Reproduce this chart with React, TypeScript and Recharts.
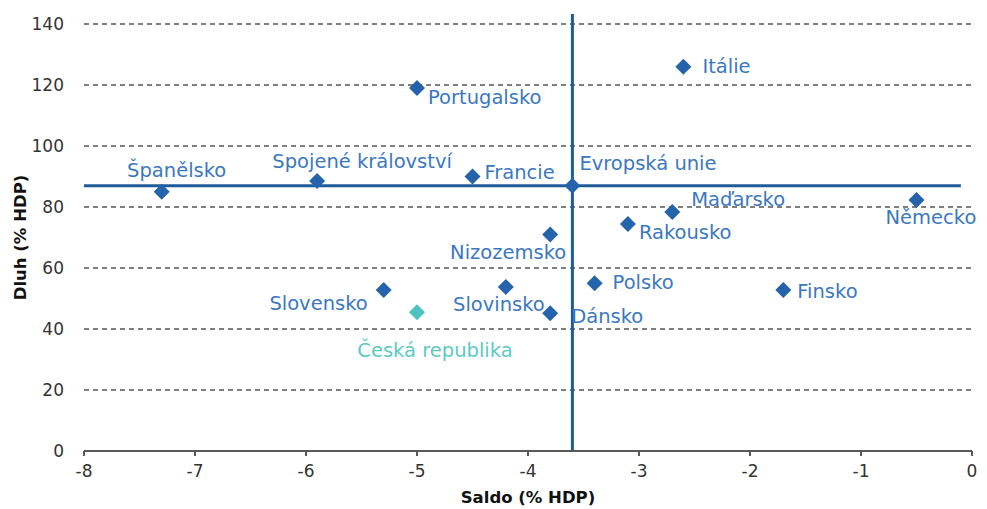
import { CartesianGrid, ReferenceLine, Scatter, ScatterChart, XAxis, YAxis } from 'recharts';

// Czech names of the countries, fiscal balance and debt (both % of GDP)
const countries = [
  'Španělsko',
  'Spojené království',
  'Portugalsko',
  'Francie',
  'Evropská unie',
  'Itálie',
  'Maďarsko',
  'Rakousko',
  'Německo',
  'Nizozemsko',
  'Polsko',
  'Finsko',
  'Slovensko',
  'Slovinsko',
  'Dánsko',
];
const saldo = [-7.3, -5.9, -5.0, -4.5, -3.6, -2.6, -2.7, -3.1, -0.5, -3.8, -3.4, -1.7, -5.3, -4.2, -3.8];
const dluh = [85, 88.5, 119, 90, 87, 126, 78.4, 74.4, 82.3, 71, 55, 52.8, 52.8, 53.8, 45.2];

const czName = 'Česká republika';
const czSaldo = -5.0;
const czDluh = 45.5;

const euSaldo = -3.6;
const euDluh = 87;

const xTicks = [-8, -7, -6, -5, -4, -3, -2, -1, 0];
const yTicks = [0, 20, 40, 60, 80, 100, 120, 140];

// label offsets from the marker: [dx, dy, anchor]
const labelLayout: Record<string, [number, number, 'start' | 'middle' | 'end']> = {
  'Španělsko': [15, -21, 'middle'],
  'Spojené království': [45, -20, 'middle'],
  Portugalsko: [11, 9, 'start'],
  Francie: [12, -4, 'start'],
  'Evropská unie': [7, -22, 'start'],
  'Itálie': [19, 0, 'start'],
  'Maďarsko': [19, -12, 'start'],
  Rakousko: [11, 8, 'start'],
  'Německo': [-31, 18, 'start'],
  Nizozemsko: [16, 18, 'end'],
  Polsko: [18, -1, 'start'],
  Finsko: [14, 2, 'start'],
  Slovensko: [-16, 14, 'end'],
  Slovinsko: [39, 18, 'end'],
  'Dánsko': [21, 3, 'start'],
  'Česká republika': [18, 38, 'middle'],
};

const mainData = countries.map((name, i) => ({ name, saldo: saldo[i], dluh: dluh[i] }));
const czData = [{ name: czName, saldo: czSaldo, dluh: czDluh }];

const FONT = '"DejaVu Sans", Verdana, sans-serif';

function makeShape(fill: string, textFill: string) {
  return (props: any) => {
    const { cx, cy, payload } = props;
    const [dx, dy, anchor] = labelLayout[payload.name] ?? [10, 0, 'start'];
    const r = 8;
    return (
      <g>
        <polygon points={`${cx},${cy - r} ${cx + r},${cy} ${cx},${cy + r} ${cx - r},${cy}`} fill={fill} />
        <text
          x={cx + dx}
          y={cy + dy}
          textAnchor={anchor}
          dominantBaseline="central"
          fill={textFill}
          fontSize={19.5}
          fontFamily={FONT}
        >
          {payload.name}
        </text>
      </g>
    );
  };
}

export default function App() {
  return (
    <ScatterChart
      width={979}
      height={501}
      margin={{ top: 16, right: 15, left: 4, bottom: 28 }}
      style={{ fontFamily: FONT }}
    >
      <CartesianGrid horizontal vertical={false} stroke="#000" strokeWidth={1.2} strokeDasharray="5 4" />
      <XAxis
        type="number"
        dataKey="saldo"
        domain={[-8, 0]}
        ticks={xTicks}
        height={30}
        stroke="#595959"
        strokeWidth={2}
        tickSize={5}
        tickMargin={9}
        tick={{ fill: '#333', fontSize: 17 }}
        label={{
          content: (p: any) => {
            const vb = p.viewBox;
            return (
              <text
                x={vb.x + vb.width / 2}
                y={489}
                textAnchor="middle"
                dominantBaseline="central"
                fill="#111"
                fontSize={16.5}
                fontWeight="bold"
              >
                Saldo (% HDP)
              </text>
            );
          },
        }}
      />
      <YAxis
        type="number"
        dataKey="dluh"
        domain={[0, 140]}
        ticks={yTicks}
        width={72}
        axisLine={false}
        tickLine={false}
        tickMargin={14}
        tick={{ fill: '#333', fontSize: 17 }}
        label={{
          content: (p: any) => {
            const vb = p.viewBox;
            const cx = 12;
            const cy = vb.y + vb.height / 2;
            return (
              <text
                x={cx}
                y={cy}
                transform={`rotate(-90 ${cx} ${cy})`}
                textAnchor="middle"
                dominantBaseline="central"
                fill="#111"
                fontSize={16.5}
                fontWeight="bold"
              >
                Dluh (% HDP)
              </text>
            );
          },
        }}
      />
      <ReferenceLine
        segment={[
          { x: euSaldo, y: 0 },
          { x: euSaldo, y: 143.3 },
        ]}
        stroke="#1f5b99"
        strokeWidth={3}
        ifOverflow="visible"
      />
      <ReferenceLine
        segment={[
          { x: -8, y: euDluh },
          { x: -0.1, y: euDluh },
        ]}
        stroke="#1f5b99"
        strokeWidth={3}
        ifOverflow="visible"
      />
      <Scatter data={mainData} shape={makeShape('#2563ab', '#3b78bf')} isAnimationActive={false} />
      <Scatter data={czData} shape={makeShape('#4cc3bf', '#5ccac4')} isAnimationActive={false} />
    </ScatterChart>
  );
}
